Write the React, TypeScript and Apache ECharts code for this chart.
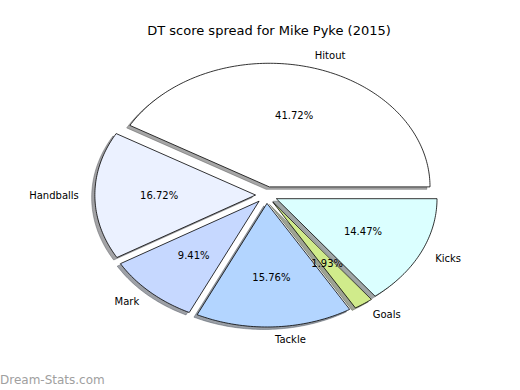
import React, { useEffect, useRef } from 'react';
import * as echarts from 'echarts';

const categories = ['Hitout', 'Handballs', 'Mark', 'Tackle', 'Goals', 'Kicks'];
const values = [41.72, 16.72, 9.41, 15.76, 1.93, 14.47];
const sliceColors = ['#ffffff', '#ebf1ff', '#c6d8ff', '#b3d5ff', '#d0eb8b', '#dbffff'];
const titleText = 'DT score spread for Mike Pyke (2015)';
const watermarkText = 'Dream-Stats.com';

const CX = 266.5;
const CY = 195;
const RX = 160.7;
const RY = 123.6;
const EXPLODE = 0.068;
const LABEL_DIST = 1.1;
const PCT_DIST = 0.6;
const FONT = '"DejaVu Sans", sans-serif';

const total = values.reduce((a, b) => a + b, 0);

function sliceGeom(i: number) {
  let start = 0;
  for (let k = 0; k < i; k++) start += values[k];
  const t1 = (start / total) * 360;
  const t2 = ((start + values[i]) / total) * 360;
  const mid = (((t1 + t2) / 2) * Math.PI) / 180;
  const ox = CX + EXPLODE * RX * Math.cos(mid);
  const oy = CY - EXPLODE * RY * Math.sin(mid);
  return { t1, t2, mid, ox, oy };
}

function wedgePoints(i: number, dx: number, dy: number) {
  const { t1, t2, ox, oy } = sliceGeom(i);
  const cx = ox + dx;
  const cy = oy + dy;
  const pts: number[][] = [[cx, cy]];
  const n = Math.max(2, Math.ceil((t2 - t1) / 1));
  for (let k = 0; k <= n; k++) {
    const a = ((t1 + ((t2 - t1) * k) / n) * Math.PI) / 180;
    pts.push([cx + RX * Math.cos(a), cy - RY * Math.sin(a)]);
  }
  return pts;
}

function shadowColor(hex: string) {
  const r = parseInt(hex.slice(1, 3), 16);
  const g = parseInt(hex.slice(3, 5), 16);
  const b = parseInt(hex.slice(5, 7), 16);
  return `rgb(${Math.round(r * 0.3)},${Math.round(g * 0.3)},${Math.round(b * 0.3)})`;
}

export default function App() {
  const ref = useRef<HTMLDivElement>(null);
  useEffect(() => {
    if (!ref.current) return;
    const chart = echarts.init(ref.current, undefined, { renderer: 'svg' });
    const data = categories.map((name, i) => ({ name, value: values[i] }));
    chart.setOption({
      animation: false,
      backgroundColor: '#ffffff',
      graphic: [
        {
          type: 'text',
          x: 269,
          y: 30,
          style: {
            text: titleText,
            fill: '#000',
            font: `13px ${FONT}`,
            align: 'center',
            verticalAlign: 'middle',
          },
        },
        {
          type: 'text',
          x: 0,
          y: 380,
          style: {
            text: watermarkText,
            fill: '#a0a0a0',
            font: `12px ${FONT}`,
            align: 'left',
            verticalAlign: 'middle',
          },
        },
      ],
      series: [
        {
          type: 'custom',
          coordinateSystem: 'none',
          silent: true,
          z: 1,
          data,
          renderItem: (params: any) => {
            const i = params.dataIndex;
            const c = shadowColor(sliceColors[i]);
            return {
              type: 'polygon',
              shape: { points: wedgePoints(i, -0.02 * RX, 0.02 * RY) },
              style: { fill: c, stroke: c, lineWidth: 0.8, opacity: 0.5 },
            };
          },
        },
        {
          type: 'custom',
          coordinateSystem: 'none',
          silent: true,
          z: 2,
          data,
          renderItem: (params: any, api: any) => {
            const i = params.dataIndex;
            const v = api.value(0);
            const { mid, ox, oy } = sliceGeom(i);
            const cosm = Math.cos(mid);
            const sinm = Math.sin(mid);
            const lx = ox + LABEL_DIST * RX * cosm;
            const ly = oy - LABEL_DIST * RY * sinm;
            const px = ox + PCT_DIST * RX * cosm;
            const py = oy - PCT_DIST * RY * sinm;
            return {
              type: 'group',
              children: [
                {
                  type: 'polygon',
                  shape: { points: wedgePoints(i, 0, 0) },
                  style: { fill: sliceColors[i], stroke: '#000', lineWidth: 0.8 },
                },
                {
                  type: 'text',
                  x: lx,
                  y: ly,
                  style: {
                    text: categories[i],
                    fill: '#000',
                    font: `10px ${FONT}`,
                    align: cosm > 0 ? 'left' : 'right',
                    verticalAlign: 'middle',
                  },
                },
                {
                  type: 'text',
                  x: px,
                  y: py,
                  style: {
                    text: `${v.toFixed(2)}%`,
                    fill: '#000',
                    font: `10px ${FONT}`,
                    align: 'center',
                    verticalAlign: 'middle',
                  },
                },
              ],
            };
          },
        },
      ],
    });
    return () => chart.dispose();
  }, []);
  return (
    <div
      ref={ref}
      style={{ position: 'fixed', left: 0, top: 0, width: 520, height: 390 }}
    />
  );
}
